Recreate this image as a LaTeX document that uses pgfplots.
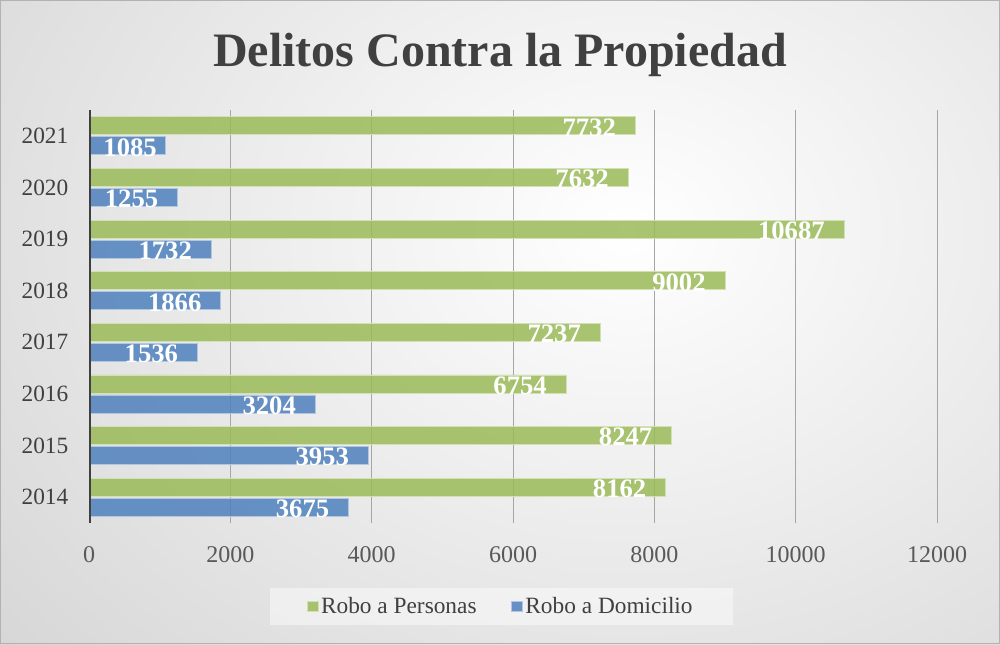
\documentclass[border=0pt]{standalone}
\usepackage{pgfplots}
\pgfplotsset{compat=1.18}
\usepackage{fontspec}
\setmainfont{Liberation Serif}
\definecolor{grn}{RGB}{155,187,89}
\definecolor{blu}{RGB}{79,129,189}
\definecolor{txt}{RGB}{64,64,64}
\definecolor{tickc}{RGB}{89,89,89}
\begin{document}
\begin{tikzpicture}
\begin{scope}
\clip (0,0) rectangle (750pt,483pt);
\fill[black!21] (0,0) rectangle (750pt,483pt);
\shade[inner color=white, outer color=black!21] (470pt,310pt) ellipse (820pt and 640pt);
\end{scope}
\draw[black!30, line width=1pt] (0.5pt,0.5pt) rectangle (749.5pt,482.5pt);
\node[font=\fontsize{36}{40}\selectfont\bfseries, text=txt] at (375pt,441.75pt) {Delitos Contra la Propiedad};
\begin{axis}[
  at={(66.75pt,90.75pt)}, anchor=south west,
  scale only axis, width=636pt, height=309.75pt,
  xmin=0, xmax=12000, ymin=-0.5, ymax=7.5,
  xtick={0,2000,...,12000},
  scaled x ticks=false,
  ytick={0,1,2,3,4,5,6,7},
  yticklabels={2014,2015,2016,2017,2018,2019,2020,2021},
  /pgf/number format/1000 sep={},
  /pgf/number format/assume math mode=true,
  axis line style={draw=none},
  major tick length=0pt,
  xmajorgrids, grid style={black!35, line width=0.75pt},
  xticklabel style={font=\fontsize{18}{20}\selectfont, text=tickc, yshift=-14pt},
  yticklabel style={font=\fontsize{17.5}{20}\selectfont, text=txt, xshift=-12pt},
  xbar, bar width=13.5pt,
  nodes near coords,
  every node near coord/.append style={anchor=east, xshift=-11pt, yshift=-1.2pt, text=white, text opacity=1, font=\fontsize{20}{20}\selectfont\bfseries},
  legend columns=2,
  legend style={at={(0.486,-0.202)}, anchor=center, draw=none, fill=white, fill opacity=0.45, text opacity=1,
    font=\fontsize{17.5}{20}\selectfont, text=txt, inner xsep=28pt, inner ysep=5pt,
    /tikz/every even column/.append style={column sep=24pt}},
  legend image code/.code={\fill[#1] (0pt,-4pt) rectangle (8pt,4pt);},
]
\addplot[bar shift=7.5pt, fill=grn, fill opacity=0.85, draw=grn!45!white, line width=0.6pt]
  coordinates {(8162,0) (8247,1) (6754,2) (7237,3) (9002,4) (10687,5) (7632,6) (7732,7)};
\addlegendentry{Robo a Personas}
\addplot[bar shift=-7.5pt, fill=blu, fill opacity=0.85, draw=blu!45!white, line width=0.6pt,
  coordinate style/.condition={x<1100}{xshift=8pt}]
  coordinates {(3675,0) (3953,1) (3204,2) (1536,3) (1866,4) (1732,5) (1255,6) (1085,7)};
\addlegendentry{Robo a Domicilio}
\draw[txt, line width=2.4pt] (axis cs:0,-0.5) -- (axis cs:0,7.5);
\end{axis}
\end{tikzpicture}
\end{document}
